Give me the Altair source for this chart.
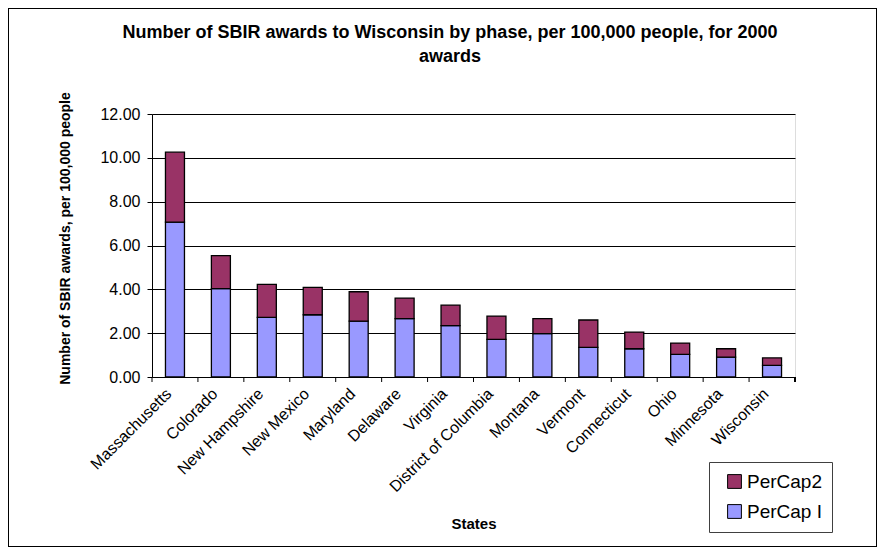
import altair as alt
import pandas as pd

states = ["Massachusetts", "Colorado", "New Hampshire", "New Mexico", "Maryland",
          "Delaware", "Virginia", "District of Columbia", "Montana", "Vermont",
          "Connecticut", "Ohio", "Minnesota", "Wisconsin"]
percap1 = [7.07, 4.03, 2.72, 2.84, 2.55, 2.66, 2.34, 1.72, 1.98, 1.35, 1.29, 1.03, 0.91, 0.53]
totals = [10.26, 5.54, 4.23, 4.09, 3.89, 3.60, 3.28, 2.78, 2.66, 2.60, 2.05, 1.55, 1.29, 0.87]
percap2 = [round(t - a, 2) for t, a in zip(totals, percap1)]
series = ["PerCap2", "PerCap I"]
colors = ["#993366", "#9999FF"]
title_lines = ["Number of SBIR awards to Wisconsin by phase, per 100,000 people, for 2000", "awards"]

rows = []
for s, a, b in zip(states, percap1, percap2):
    rows.append({"state": s, "series": "PerCap I", "value": a, "ord": 0})
    rows.append({"state": s, "series": "PerCap2", "value": b, "ord": 1})
df = pd.DataFrame(rows)
ticks_df = pd.DataFrame({"state": states})
title_df = pd.DataFrame({"line": title_lines, "row": [0, 1]})

W, H = 643, 263
FONT = "Liberation Sans"

xenc = alt.X("state:N", sort=states, scale=alt.Scale(paddingInner=0, paddingOuter=0),
             axis=alt.Axis(title="States", labelAngle=-45, labelAlign="right",
                           labelBaseline="middle", labelPadding=14, labelOffset=-6,
                           ticks=False,
                           labelFontSize=16, labelColor="black", labelFont=FONT,
                           titleFont=FONT, titleFontSize=15, titleFontWeight="bold",
                           titleColor="black", titleY=146, titleBaseline="middle",
                           domainColor="black", domainWidth=1, labelOverlap=False))

bars = alt.Chart(df).mark_bar(size=19, stroke="black", strokeWidth=1.3).encode(
    x=xenc,
    y=alt.Y("value:Q", stack="zero",
            scale=alt.Scale(domain=[0, 12], nice=False),
            axis=alt.Axis(title="Number of SBIR awards, per 100,000 people",
                          format=".2f", values=[0, 2, 4, 6, 8, 10, 12],
                          labelFontSize=16, labelFont=FONT, labelColor="black",
                          titleFont=FONT, titleFontSize=14, titleFontWeight="bold",
                          titleColor="black", titleX=-87, titleY=124,
                          titleAngle=-90, titleAlign="center", titleBaseline="middle",
                          grid=True, gridColor="black", gridWidth=1,
                          tickColor="black", tickSize=5, domainColor="black",
                          labelPadding=7)),
    color=alt.Color("series:N", scale=alt.Scale(domain=series, range=colors),
                    legend=alt.Legend(title=None, orient="none", legendX=557, legendY=348,
                                      fillColor="white", strokeColor="#404040",
                                      padding=10, symbolType="square", symbolSize=190,
                                      symbolStrokeColor="black", symbolStrokeWidth=1,
                                      labelFontSize=19, labelFont=FONT, labelColor="black",
                                      rowPadding=10, symbolOffset=6, labelOffset=3)),
    order=alt.Order("ord:Q", sort="ascending"),
)

tick_rules = alt.Chart(ticks_df).mark_rule(color="black", strokeWidth=1).encode(
    x=alt.X("state:N", sort=states, bandPosition=0),
    y=alt.value(H),
    y2=alt.value(H + 5),
)
end_tick = alt.Chart(ticks_df).mark_rule(color="black", strokeWidth=1).encode(
    x=alt.value(W), y=alt.value(H), y2=alt.value(H + 5)
)
frame = alt.Chart(ticks_df).mark_rect(fill=None, stroke="black", strokeWidth=1).encode(
    x=alt.value(-143.5), x2=alt.value(W + 81.5),
    y=alt.value(-105.5), y2=alt.value(H + 169.5),
)
title1 = alt.Chart(title_df).transform_filter("datum.row == 0").mark_text(
    font=FONT, fontSize=18, fontWeight="bold", color="black", align="center", baseline="middle"
).encode(text="line:N", x=alt.value(298), y=alt.value(-81))
title2 = alt.Chart(title_df).transform_filter("datum.row == 1").mark_text(
    font=FONT, fontSize=18, fontWeight="bold", color="black", align="center", baseline="middle"
).encode(text="line:N", x=alt.value(298), y=alt.value(-57))

chart = alt.layer(bars, tick_rules, end_tick, frame, title1, title2).properties(
    width=W, height=H,
    autosize=alt.AutoSizeParams(type="none"),
    padding={"left": 144, "top": 106, "right": 82, "bottom": 170},
).configure_view(fill="#C0C0C0", stroke="#808080", strokeWidth=1.5).configure(background="white")

chart.save("out.html", embed_options={"renderer": "svg", "actions": False})
